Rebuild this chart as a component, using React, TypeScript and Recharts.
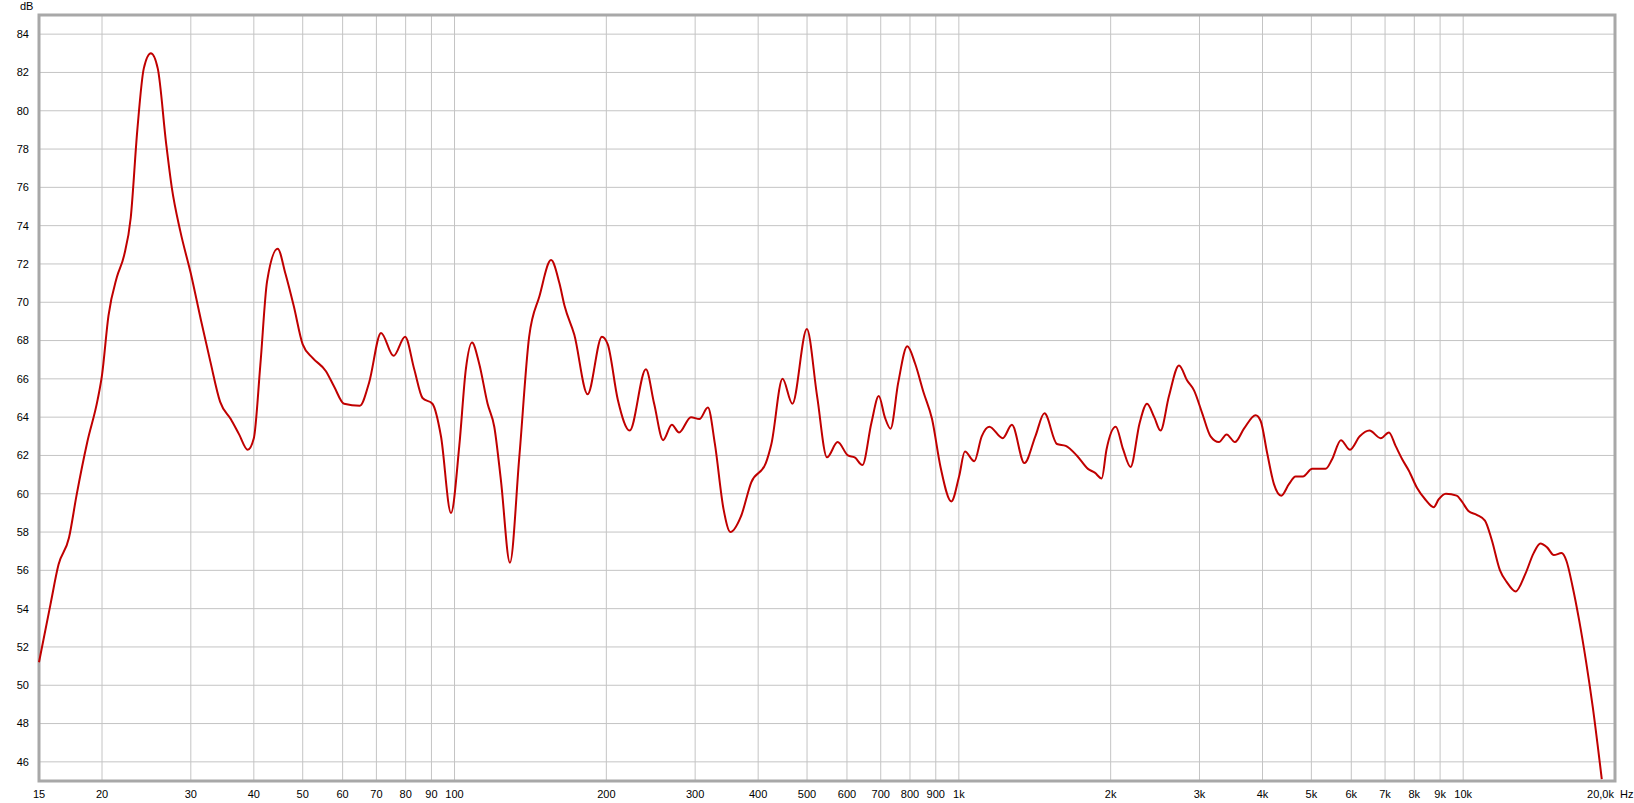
import { LineChart, Line, XAxis, YAxis, CartesianGrid, ReferenceArea } from "recharts";

// frequency response
const freqs = [
  15, 15.8, 16.4, 17.2, 17.8, 18.7, 19.6, 20, 20.6, 21.4, 22.1, 22.8, 23.5, 24.2, 25.0, 25.8,
  26.8, 27.5, 28.6, 30.0, 31.4, 32.8, 34.3, 36.0, 37.4, 38.9, 40.0, 41.2, 42.5, 44.6, 46.2,
  48.0, 50, 52.3, 55.6, 57.7, 60.4, 64.9, 67.7, 71.5, 75.7, 79.8, 83.2, 86.4, 90.4, 94.0,
  98.4, 102.2, 105.3, 108.3, 111.9, 116.3, 119.9, 123.6, 128.8, 134.4, 140.6, 147.3, 155.4,
  161.4, 165.3, 172.8, 183.6, 196.0, 201.3, 210.8, 222.5, 239.6, 248.8, 259.2, 269.7, 278.8,
  294.3, 305.9, 318.0, 328.3, 341.5, 352.5, 369.6, 387.6, 414.2, 424.9, 447.1, 467.6, 499.6,
  523.5, 547.7, 575, 602.7, 621.6, 643.9, 670.8, 693.8, 713.2, 732.1, 758.2, 790.2, 818.9,
  851, 884.8, 919.7, 966.4, 1001, 1028, 1073, 1110, 1149, 1222, 1274, 1349, 1418, 1478, 1565,
  1629, 1713, 1803, 1860, 1920, 1962, 2047, 2118, 2190, 2283, 2361, 2440, 2511, 2610, 2732,
  2838, 2926, 3038, 3156, 3278, 3396, 3527, 3676, 3877, 3967, 4088, 4215, 4358, 4513, 4653,
  4811, 5020, 5335, 5496, 5722, 5966, 6236, 6518, 6862, 7125, 7344, 7570, 7804, 8102, 8412,
  8740, 8939, 9240, 9706, 9937, 10242, 10637, 11045, 11391, 11830, 12194, 12712, 13276,
  13795, 14228, 14667, 15124, 15671, 16019, 16465, 16979, 17510, 18062, 18828,
];

const levels = [
  51.2, 54.2, 56.3, 57.7, 59.9, 62.7, 64.9, 66.2, 69.3, 71.3, 72.4, 74.4, 79.0, 82.2, 83.0, 82.2,
  78.3, 76.0, 73.7, 71.5, 69.1, 66.9, 64.8, 63.9, 63.1, 62.3, 62.9, 66.7, 71.1, 72.8, 71.5,
  69.8, 67.8, 67.1, 66.4, 65.6, 64.7, 64.6, 65.8, 68.4, 67.2, 68.2, 66.5, 65.0, 64.7, 63.0,
  59.0, 62.5, 66.5, 67.9, 66.8, 64.7, 63.5, 60.7, 56.4, 61.9, 68.2, 70.3, 72.2,
  71.0, 69.8, 68.3, 65.2, 68.2, 67.8, 64.9, 63.3, 66.5, 64.7, 62.8, 63.6, 63.2,
  64.0, 63.9, 64.5, 62.6, 59.2, 58.0, 58.8, 60.6, 61.6, 62.6, 66.0, 64.7, 68.6,
  65.1, 61.9, 62.7, 62.0, 61.9, 61.5, 63.7, 65.1, 64.0, 63.4, 65.8, 67.7, 66.8,
  65.3, 63.9, 61.4, 59.6, 60.9, 62.2, 61.7, 63.0, 63.5, 62.9, 63.6, 61.6, 63.0, 64.2, 62.6,
  62.5, 62.0, 61.3, 61.1, 60.8, 62.3, 63.5, 62.3, 61.4, 63.7, 64.7, 64.0, 63.3, 65.1, 66.7,
  65.9, 65.4, 64.2, 63.0, 62.7, 63.1, 62.7, 63.4, 64.1, 63.8, 62.1, 60.5, 59.9, 60.5, 60.9,
  60.9, 61.3, 61.3, 61.8, 62.8, 62.3, 63.0, 63.3, 62.9, 63.2, 62.5, 61.8, 61.2, 60.3, 59.7,
  59.3, 59.7, 60.0, 59.9, 59.6, 59.1, 58.9, 58.6, 57.6, 56.0, 55.4, 54.9, 55.8,
  56.9, 57.4, 57.2, 56.8, 56.9, 56.5, 55.2, 53.4, 51.3, 48.9, 45.1,
];

const xTicks = [
  15, 20, 30, 40, 50, 60, 70, 80, 90, 100, 200, 300, 400, 500, 600, 700, 800, 900, 1000,
  2000, 3000, 4000, 5000, 6000, 7000, 8000, 9000, 10000, 20000,
];
const yTicks = [46, 48, 50, 52, 54, 56, 58, 60, 62, 64, 66, 68, 70, 72, 74, 76, 78, 80, 82, 84];

const data = freqs.map((f, i) => ({ f, db: levels[i] }));

const FONT = "'Liberation Sans', Arial, sans-serif";

function freqLabel(f: number) {
  if (f === 20000) return "20,0k";
  if (f >= 1000) return `${f / 1000}k`;
  return String(f);
}

function XTick(props: any) {
  const { x, y, payload } = props;
  const f = payload.value;
  if (f === 20000) {
    return (
      <g>
        <text x={x - 1} y={y} dy="0.71em" textAnchor="end" fontSize={11} fontFamily={FONT} fill="#000">
          {freqLabel(f)}
        </text>
        <text x={x + 5} y={y} dy="0.71em" textAnchor="start" fontSize={11} fontFamily={FONT} fill="#000">
          Hz
        </text>
      </g>
    );
  }
  return (
    <text x={x} y={y} dy="0.71em" textAnchor="middle" fontSize={11} fontFamily={FONT} fill="#000">
      {freqLabel(f)}
    </text>
  );
}

export default function App() {
  return (
    <div style={{ position: "absolute", left: 0, top: 0, width: 1634, height: 803, background: "#fff" }}>
      <span
        style={{ position: "absolute", left: 20, top: 0, fontSize: 11, fontFamily: FONT, color: "#000" }}
      >
        dB
      </span>
      <LineChart width={1634} height={803} data={data} margin={{ top: 15, right: 19, bottom: 0, left: 0 }}>
        <CartesianGrid stroke="#c4c4c4" strokeWidth={1} />
        <XAxis
          dataKey="f"
          type="number"
          scale="log"
          domain={[15, 20000]}
          ticks={xTicks}
          interval={0}
          height={22}
          tickLine={false}
          axisLine={false}
          tickSize={7}
          tick={<XTick />}
        />
        <YAxis
          type="number"
          domain={[45, 85]}
          ticks={yTicks}
          interval={0}
          width={39}
          tickLine={false}
          axisLine={false}
          tickSize={8}
          tick={{ fontSize: 11, fontFamily: FONT, fill: "#000" }}
        />
        <Line
          dataKey="db"
          type="monotone"
          stroke="#c00000"
          strokeWidth={2}
          dot={false}
          isAnimationActive={false}
        />
        <ReferenceArea x1={15} x2={20000} y1={45} y2={85} fill="none" stroke="#a8a8a8" strokeWidth={3} />
      </LineChart>
    </div>
  );
}
